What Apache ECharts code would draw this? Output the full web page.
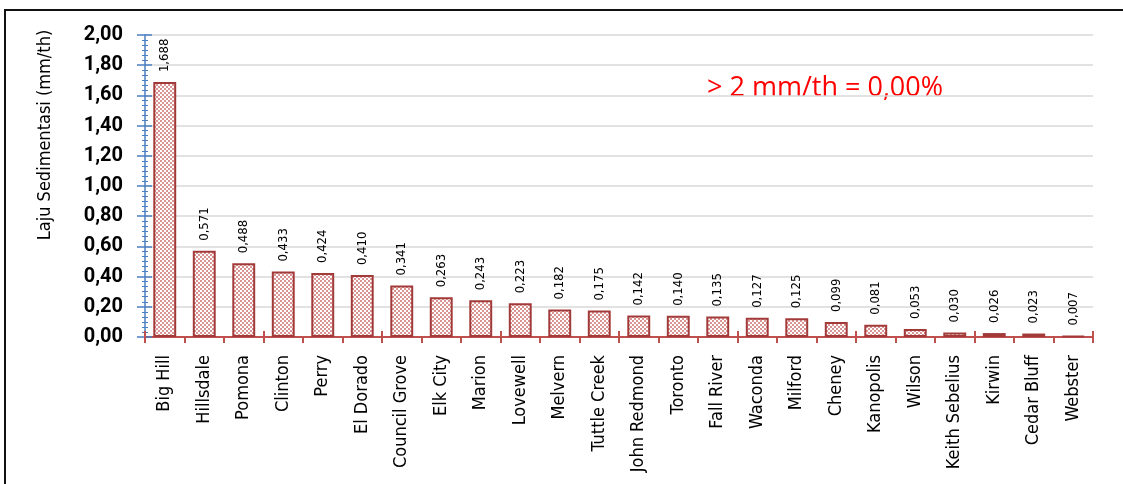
<!DOCTYPE html>
<html><head><meta charset="utf-8">
<script src="https://cdn.jsdelivr.net/npm/echarts@6/dist/echarts.min.js"></script>
<style>html,body{margin:0;padding:0;background:#fff}#c{width:1123px;height:484px}</style>
</head><body><div id="c"></div>
<script>
var categories = ['Big Hill','Hillsdale','Pomona','Clinton','Perry','El Dorado','Council Grove','Elk City','Marion','Lovewell','Melvern','Tuttle Creek','John Redmond','Toronto','Fall River','Waconda','Milford','Cheney','Kanopolis','Wilson','Keith Sebelius','Kirwin','Cedar Bluff','Webster'];
var values = [1.688,0.571,0.488,0.433,0.424,0.410,0.341,0.263,0.243,0.223,0.182,0.175,0.142,0.140,0.135,0.127,0.125,0.099,0.081,0.053,0.030,0.026,0.023,0.007];
var yTitle = 'Laju Sedimentasi (mm/th)';
var note = '> 2 mm/th = 0,00%';

var pc = document.createElement('canvas');
pc.width = 4; pc.height = 4;
var g = pc.getContext('2d');
g.fillStyle = '#ffffff'; g.fillRect(0,0,4,4);
g.fillStyle = '#d99494';
g.fillRect(0,0,2,2); g.fillRect(2,2,2,2);

var condensed = '"DejaVu Sans Condensed", "DejaVu Sans"';
var chart = echarts.init(document.getElementById('c'));
var gridL = 145, gridR = 30, gridT = 35, gridB = 147;
chart.setOption({
  animation: false,
  grid: {left: gridL, right: gridR, top: gridT, bottom: gridB, containLabel: false},
  xAxis: [{
    type: 'category', data: categories, position: 'bottom',
    axisLine: {lineStyle: {color: '#c0504d', width: 2}},
    axisTick: {show: true, length: 6, lineStyle: {color: '#c0504d', width: 2}},
    axisLabel: {rotate: 90, fontFamily: condensed, fontSize: 18, color: '#000', margin: 18}
  },{
    type: 'category', data: categories, position: 'bottom',
    axisLine: {show: false},
    axisTick: {show: true, inside: true, length: 6, lineStyle: {color: '#c0504d', width: 2}},
    axisLabel: {show: false}
  }],
  yAxis: [{
    type: 'value', min: 0, max: 2, interval: 0.2,
    axisLine: {show: true, lineStyle: {color: '#4a7fc1', width: 1.5}},
    axisTick: {show: true, length: 8, lineStyle: {color: '#4a7fc1', width: 1.5}},
    minorTick: {show: true, splitNumber: 6, length: 3, lineStyle: {color: '#4a7fc1', width: 1}},
    splitLine: {lineStyle: {color: '#d9d9d9', width: 1.5}},
    axisLabel: {fontFamily: 'Roboto', fontWeight: 'bold', fontSize: 20, color: '#000', margin: 22,
      formatter: function(v){ return v.toFixed(2).replace('.', ','); }}
  },{
    type: 'value', min: 0, max: 2, interval: 0.2, position: 'left',
    axisLine: {show: false},
    axisTick: {show: true, inside: true, length: 7, lineStyle: {color: '#4a7fc1', width: 1.5}},
    minorTick: {show: true, splitNumber: 6, length: 3, lineStyle: {color: '#4a7fc1', width: 1}},
    splitLine: {show: false}, axisLabel: {show: false}
  }],
  series: [{
    type: 'bar', data: values, barWidth: '58%', xAxisIndex: 0, yAxisIndex: 0,
    itemStyle: {color: {image: pc, repeat: 'repeat'}, borderColor: '#a33a3a', borderWidth: 2},
    label: {show: true, position: 'top', rotate: 90, align: 'left', verticalAlign: 'middle', distance: 10,
      fontFamily: condensed, fontSize: 13, color: '#000',
      formatter: function(p){ return p.value.toFixed(3).replace('.', ','); }}
  }],
  graphic: [
    {type: 'rect', shape: {x: 5, y: 10, width: 1200, height: 600}, style: {fill: 'none', stroke: '#111', lineWidth: 2}, silent: true},
    {type: 'text', x: 45, y: 135, rotation: Math.PI/2,
      style: {text: yTitle, fontFamily: condensed, fontSize: 18, fill: '#000', align: 'center', verticalAlign: 'middle'}},
    {type: 'text', x: 707, y: 88,
      style: {text: note, fontFamily: 'Open Sans', fontSize: 27, fill: '#ff0000', align: 'left', verticalAlign: 'middle'}}
  ]
});
</script></body></html>
